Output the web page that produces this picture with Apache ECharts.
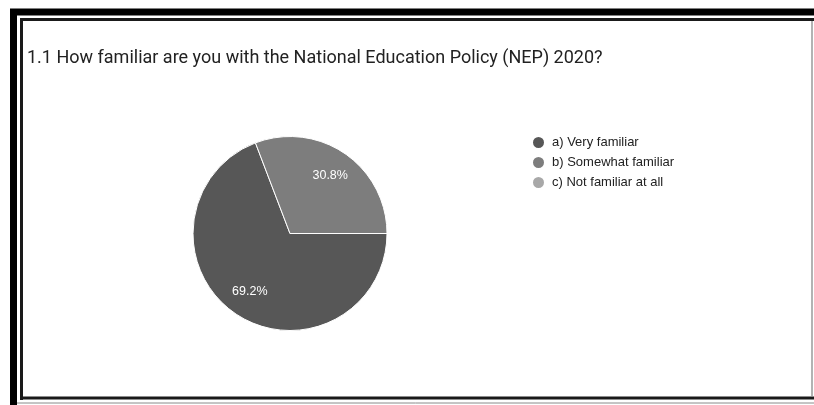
<!DOCTYPE html>
<html>
<head>
<meta charset="utf-8">
<script src="https://cdn.jsdelivr.net/npm/echarts@6/dist/echarts.min.js"></script>
<style>
  html, body { margin: 0; padding: 0; background: #fff; }
  #chart { width: 814px; height: 405px; }
</style>
</head>
<body>
<div id="chart"></div>
<script>
// Survey question and answer shares (percent of respondents)
const questionTitle = '1.1 How familiar are you with the National Education Policy (NEP) 2020?';
const answerLabels = ['a) Very familiar', 'b) Somewhat familiar', 'c) Not familiar at all'];
const answerShares = [69.2, 30.8, 0];
const answerColors = ['#575757', '#7d7d7d', '#a8a8a8'];

const chart = echarts.init(document.getElementById('chart'), null, { renderer: 'canvas' });

const pieData = answerLabels.map((name, i) => ({
  name: name,
  value: answerShares[i],
  itemStyle: { color: answerColors[i] }
}));

const center = [290, 233.5];
const outerR = 97;

const option = {
  backgroundColor: '#ffffff',
  animation: false,
  title: {
    text: questionTitle,
    left: 27,
    top: 48,
    padding: 0,
    textStyle: {
      fontFamily: 'Roboto',
      fontWeight: 'normal',
      fontSize: 18,
      lineHeight: 20,
      color: '#222222'
    }
  },
  legend: {
    orient: 'vertical',
    left: 526,
    top: 130,
    icon: 'circle',
    itemWidth: 13,
    itemHeight: 13,
    itemGap: 5,
    data: answerLabels,
    textStyle: {
      fontFamily: 'Liberation Sans',
      fontSize: 13,
      lineHeight: 14,
      color: '#222222',
      padding: [0, 0, 0, 2]
    }
  },
  graphic: [
    // outer heavy frame
    {
      type: 'rect', silent: true, z: 100,
      shape: { x: 13.5, y: 12, width: 830, height: 430 },
      style: { fill: null, stroke: '#000000', lineWidth: 7 }
    },
    // inner frame: top, left, bottom dark lines, right light line
    {
      type: 'line', silent: true, z: 100,
      shape: { x1: 20, y1: 19.5, x2: 814, y2: 19.5 },
      style: { stroke: '#1a1a1a', lineWidth: 3 }
    },
    {
      type: 'line', silent: true, z: 100,
      shape: { x1: 21.5, y1: 18, x2: 21.5, y2: 400 },
      style: { stroke: '#1a1a1a', lineWidth: 3 }
    },
    {
      type: 'line', silent: true, z: 100,
      shape: { x1: 20, y1: 398, x2: 814, y2: 398 },
      style: { stroke: '#1a1a1a', lineWidth: 3 }
    },
    {
      type: 'line', silent: true, z: 100,
      shape: { x1: 812, y1: 21, x2: 812, y2: 396 },
      style: { stroke: '#9a9a9a', lineWidth: 1.5 }
    },
    {
      type: 'line', silent: true, z: 100,
      shape: { x1: 17, y1: 403, x2: 814, y2: 403 },
      style: { stroke: '#8a8a8a', lineWidth: 1 }
    }
  ],
  series: [
    {
      type: 'pie',
      name: 'shares',
      center: center,
      radius: [0, outerR],
      startAngle: 0,
      clockwise: true,
      avoidLabelOverlap: false,
      label: { show: false },
      labelLine: { show: false },
      emphasis: { disabled: true },
      itemStyle: { borderColor: '#ffffff', borderWidth: 1 },
      data: pieData
    },
    {
      // transparent ring used only to place percentage labels at 0.7 radius
      type: 'pie',
      name: 'labels',
      center: center,
      radius: [outerR * 0.4, outerR],
      startAngle: 0,
      clockwise: true,
      silent: true,
      percentPrecision: 1,
      avoidLabelOverlap: false,
      itemStyle: { color: 'rgba(0,0,0,0)', borderWidth: 0 },
      labelLine: { show: false },
      emphasis: { disabled: true },
      label: {
        show: true,
        position: 'inside',
        fontFamily: 'Liberation Sans',
        fontSize: 12.5,
        color: '#ffffff',
        formatter: p => (p.value > 0 ? p.percent.toFixed(1) + '%' : '')
      },
      data: answerLabels.map((name, i) => ({ name: name, value: answerShares[i] }))
    }
  ]
};

chart.setOption(option);
</script>
</body>
</html>
